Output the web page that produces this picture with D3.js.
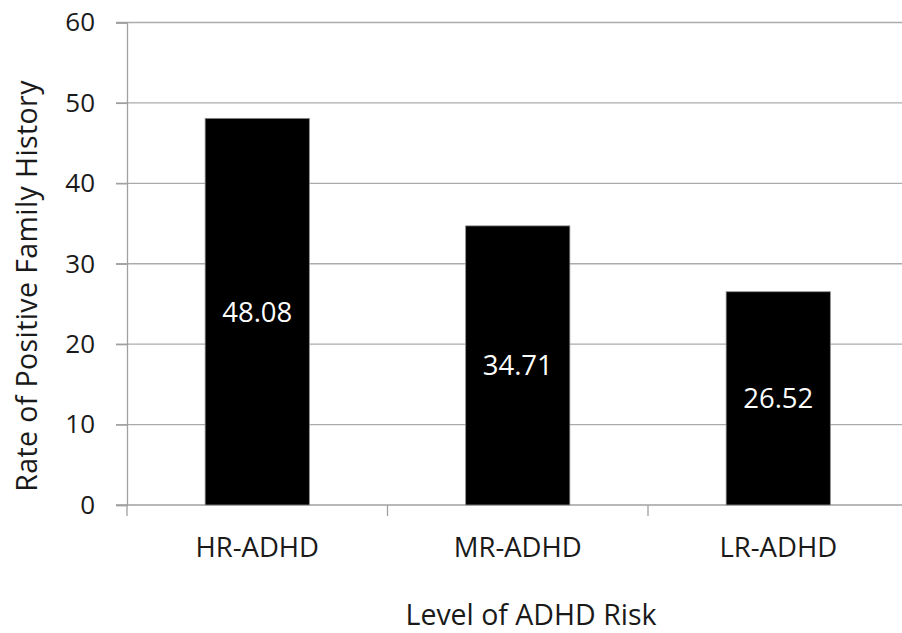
<!DOCTYPE html>
<html>
<head>
<meta charset="utf-8">
<script src="https://cdn.jsdelivr.net/npm/d3@7"></script>
<style>
  html, body { margin: 0; padding: 0; background: #fff; }
  svg { display: block; }
  text { font-family: "Open Sans", sans-serif; fill: #1a1a1a; }
</style>
</head>
<body>
<svg id="chart" width="902" height="633"></svg>
<script>
const categories = ["HR-ADHD", "MR-ADHD", "LR-ADHD"];
const values = [48.08, 34.71, 26.52];
const valueLabels = ["48.08", "34.71", "26.52"];
const yTicks = [0, 10, 20, 30, 40, 50, 60];
const yTitle = "Rate of Positive Family History";
const xTitle = "Level of ADHD Risk";

const W = 902, H = 633;
const m = { left: 127, right: -6.5, top: 22.5, bottom: 128 };
const svg = d3.select("#chart");

const x = d3.scaleBand().domain(categories)
  .range([m.left, W - m.right]).paddingInner(0.6).paddingOuter(0.3);
const y = d3.scaleLinear().domain([0, 60]).range([H - m.bottom, m.top]);

// gridlines
svg.append("g").selectAll("line").data(yTicks.filter(d => d > 0)).join("line")
  .attr("x1", m.left - 11).attr("x2", W)
  .attr("y1", d => y(d)).attr("y2", d => y(d))
  .attr("stroke", "#ababab").attr("stroke-width", 1.3);

// y axis
const yAxis = svg.append("g").attr("transform", `translate(${m.left},0)`)
  .call(d3.axisLeft(y).tickValues(yTicks).tickSize(11).tickPadding(21).tickFormat(d3.format("d")));
yAxis.select(".domain").attr("stroke", "#a0a0a0").attr("stroke-width", 1.3);
yAxis.selectAll(".tick line").attr("stroke", "#a0a0a0").attr("stroke-width", 1.3);
yAxis.selectAll(".tick text").attr("font-size", 26).attr("fill", "#1a1a1a")
  .attr("font-family", "Open Sans, sans-serif");

// x axis baseline and category boundary ticks
const step = x.step();
const x0 = y(0);
svg.append("line").attr("x1", m.left - 11).attr("x2", W)
  .attr("y1", x0).attr("y2", x0).attr("stroke", "#a0a0a0").attr("stroke-width", 1.3);
const bounds = categories.map((c, i) => x(c) - x.paddingInner() * step / 2 - (i === 0 ? (x.paddingOuter() - x.paddingInner() / 2) * step : 0));
svg.append("g").selectAll("line").data(bounds).join("line")
  .attr("x1", d => d).attr("x2", d => d)
  .attr("y1", x0).attr("y2", x0 + 11)
  .attr("stroke", "#a0a0a0").attr("stroke-width", 1.3);

// bars
svg.append("g").selectAll("rect").data(values).join("rect")
  .attr("x", (d, i) => x(categories[i]))
  .attr("width", x.bandwidth())
  .attr("y", d => y(d))
  .attr("height", d => y(0) - y(d))
  .attr("fill", "#000").attr("stroke", "#8c8c8c").attr("stroke-width", 0.8);

// value labels
svg.append("g").selectAll("text").data(values).join("text")
  .attr("x", (d, i) => x(categories[i]) + x.bandwidth() / 2)
  .attr("y", d => (y(d) + y(0)) / 2)
  .attr("dy", "0.36em")
  .attr("text-anchor", "middle")
  .attr("font-size", 27.5)
  .style("fill", "#fff")
  .text((d, i) => valueLabels[i]);

// category labels
svg.append("g").selectAll("text").data(categories).join("text")
  .attr("x", d => x(d) + x.bandwidth() / 2)
  .attr("y", 557)
  .attr("text-anchor", "middle")
  .attr("font-size", 27.5)
  .text(d => d);

// axis titles
svg.append("text").attr("x", 531).attr("y", 625)
  .attr("text-anchor", "middle").attr("font-size", 28.5).text(xTitle);
svg.append("text").attr("transform", "translate(37,286) rotate(-90)")
  .attr("text-anchor", "middle").attr("font-size", 28.5)
  .attr("letter-spacing", 0.4).text(yTitle);
</script>
</body>
</html>
